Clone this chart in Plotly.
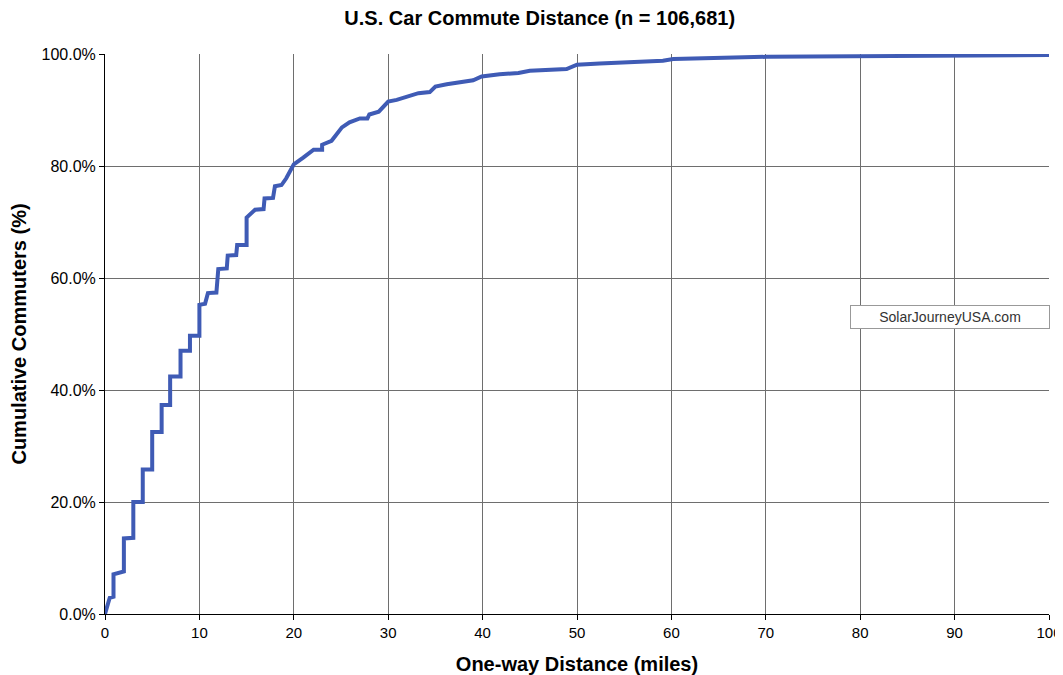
import plotly.graph_objects as go

# 累计通勤距离曲线的顶点
distance_miles = [
    0, 0.5, 0.9, 0.9, 2.0, 2.0, 3.0, 3.0, 4.0, 4.0, 5.0, 5.0, 6.0, 6.0, 6.9, 6.9,
    8.0, 8.0, 9.0, 9.0, 10.0, 10.0, 10.6, 10.9, 11.8, 12.0, 12.9, 13.0, 13.9, 14.0,
    15.0, 15.0, 15.9, 16.8, 16.9, 17.8, 18.0, 18.7, 19.2, 20.0, 21.0, 22.1, 23.0,
    23.0, 24.0, 25.1, 25.9, 27.0, 27.8, 28.0, 29.0, 30.0, 30.9, 32.1, 33.2, 34.4,
    35.0, 36.2, 37.6, 39.0, 39.9, 41.8, 43.8, 45.0, 48.9, 50.0, 52.4, 59.1, 60.2,
    70.1, 100,
]
cumulative_pct = [
    0, 2.9, 3.1, 7.1, 7.6, 13.5, 13.6, 20.0, 20.0, 25.8, 25.8, 32.5, 32.5, 37.3,
    37.3, 42.4, 42.4, 47.0, 47.0, 49.7, 49.7, 55.2, 55.4, 57.3, 57.4, 61.6, 61.7,
    64.0, 64.1, 65.9, 65.9, 70.8, 72.2, 72.3, 74.2, 74.3, 76.4, 76.6, 77.8, 80.3,
    81.5, 82.9, 82.9, 83.8, 84.5, 86.9, 87.8, 88.5, 88.5, 89.2, 89.7, 91.5, 91.8,
    92.5, 93.0, 93.2, 94.2, 94.6, 95.0, 95.3, 96.0, 96.4, 96.6, 97.0, 97.3, 98.1,
    98.3, 98.8, 99.1, 99.5, 99.8,
]

x_ticks = list(range(0, 101, 10))
y_ticks = list(range(0, 101, 20))
y_ticktext = [f'{v:.1f}%' for v in y_ticks]

FONT = 'Liberation Sans, Arial, sans-serif'

fig = go.Figure()
fig.add_trace(
    go.Scatter(
        x=distance_miles, y=cumulative_pct, mode='lines',
        line={'color': '#3f5bb5', 'width': 4}, showlegend=False,
    )
)

# 水印文字框
fig.add_annotation(
    x=0.895, y=0.531, xref='paper', yref='paper', xanchor='center', yanchor='middle',
    text='SolarJourneyUSA.com', showarrow=False,
    font={'family': FONT, 'size': 14, 'color': '#333333'},
    bgcolor='white', bordercolor='#999999', borderwidth=1,
    width=196, height=20,
)

# 页面 body 有 8px 边距，画布尺寸相应缩小
fig.update_layout(
    width=1055, height=667,
    paper_bgcolor='white', plot_bgcolor='white',
    margin={'l': 97, 'r': 14, 't': 46, 'b': 61},
    font={'family': FONT, 'color': 'black'},
    title={
        'text': '<b>U.S. Car Commute Distance (n = 106,681)</b>',
        'x': 0.504, 'xanchor': 'center', 'y': 0.985, 'yanchor': 'middle',
        'font': {'size': 20, 'family': FONT, 'color': 'black'},
    },
)
fig.update_xaxes(
    range=[0, 100], tickvals=x_ticks, showgrid=True, gridcolor='#6e6e6e', gridwidth=1,
    showline=True, linecolor='black', linewidth=1, automargin=False,
    ticks='outside', ticklen=5, tickcolor='black', zeroline=False,
    tickfont={'size': 15},
    title={'text': '<b>One-way Distance (miles)</b>', 'font': {'size': 20}, 'standoff': 16},
)
fig.update_yaxes(
    range=[0, 100], tickvals=y_ticks, ticktext=y_ticktext,
    showgrid=True, gridcolor='#6e6e6e', gridwidth=1,
    showline=True, linecolor='black', linewidth=1, automargin=False,
    ticks='outside', ticklen=5, tickcolor='black', zeroline=False,
    tickfont={'size': 16},
    title={'text': '<b>Cumulative Commuters (%)</b>', 'font': {'size': 20}, 'standoff': 14},
)

fig.write_html('out.html')
